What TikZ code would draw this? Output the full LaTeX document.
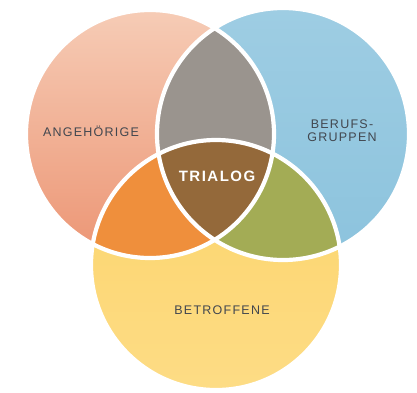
\documentclass[tikz,border=0pt]{standalone}
\usepackage{fontspec}
\newfontfamily\labelfont{Liberation Sans}[LetterSpace=10]
\definecolor{angTop}{HTML}{F6CCB6}
\definecolor{angBot}{HTML}{EC9574}
\definecolor{berTop}{HTML}{9ECDE3}
\definecolor{berBot}{HTML}{8CC3DD}
\definecolor{betTop}{HTML}{FCD46A}
\definecolor{betBot}{HTML}{FDDC85}
\definecolor{lensGray}{HTML}{9A948E}
\definecolor{lensOrange}{HTML}{EF8F3C}
\definecolor{lensGreen}{HTML}{A3AC55}
\definecolor{trialogBrown}{HTML}{94693A}
\definecolor{labelGray}{HTML}{42474F}
\def\rAng{124}
\def\rBer{126}
\def\rBet{125}

\begin{document}
\begin{tikzpicture}[x=1pt,y=-1pt,
	rim/.style={draw=white, line width=4.2pt},
	circlelabel/.style={font={\labelfont\fontsize{12.5}{13}\selectfont}, text=labelGray, inner sep=0pt, align=center}]
			%%%%% START %%%%%
			\useasboundingbox (0,0) rectangle (417,392);
			
			\coordinate (ang) at (150,134);
			\coordinate (ber) at (283,134);
			\coordinate (bet) at (216,265);
			
			% the three circles
			\fill[top color=angTop, bottom color=angBot] (ang) circle (\rAng);
			\fill[top color=berTop, bottom color=berBot] (ber) circle (\rBer);
			\fill[top color=betTop, bottom color=betBot] (bet) circle (\rBet);
			
			% overlaps of two
			\begin{scope}
				\clip (ang) circle (\rAng);
				\fill[lensGray] (ber) circle (\rBer);
				\fill[lensOrange] (bet) circle (\rBet);
			\end{scope}
			\begin{scope}
				\clip (ber) circle (\rBer);
				\fill[lensGreen] (bet) circle (\rBet);
			\end{scope}
			
			% overlap of three
			\begin{scope}
				\clip (ang) circle (\rAng);
				\clip (ber) circle (\rBer);
				\fill[trialogBrown] (bet) circle (\rBet);
			\end{scope}
			
			\draw[rim] (ang) circle (\rAng);
			\draw[rim] (ber) circle (\rBer);
			\draw[rim] (bet) circle (\rBet);
			
			\node[circlelabel] (angehoerige) at (91,131.5) {ANGEHÖRIGE};
			\node[circlelabel] (berufsgruppen) at (342,131) {BERUFS-\\GRUPPEN};
			\node[circlelabel] (betroffene) at (222,310) {BETROFFENE};
			\node[circlelabel, text=white, font={\labelfont\bfseries\fontsize{15}{16}\selectfont}] (trialog) at (217,176.5) {TRIALOG};
			
			%%%%% END %%%%%
\end{tikzpicture}
\end{document}
